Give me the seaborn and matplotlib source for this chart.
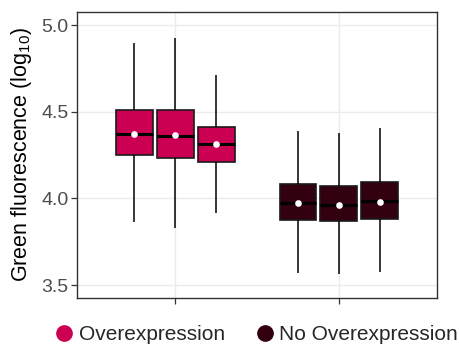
import matplotlib
matplotlib.use("Agg")
import matplotlib.pyplot as plt
from matplotlib.lines import Line2D
import seaborn as sns
import pandas as pd

# Conditions and replicate wells
groups = ["Overexpression", "No Overexpression"]
replicates = ["R1", "R2", "R3"]
group_colors = ["#CC0052", "#33000F"]

# Five-number summaries per replicate (log10 green fluorescence), Overexpression first
whisker_low = [3.865, 3.829, 3.917, 3.567, 3.563, 3.573]
quartile_1 = [4.250, 4.234, 4.211, 3.875, 3.867, 3.882]
medians = [4.371, 4.361, 4.311, 3.975, 3.963, 3.984]
quartile_3 = [4.511, 4.511, 4.413, 4.083, 4.071, 4.094]
whisker_high = [4.899, 4.923, 4.711, 4.390, 4.375, 4.404]
means = [4.374, 4.365, 4.311, 3.975, 3.962, 3.981]

yticks = [3.5, 4.0, 4.5, 5.0]

rows = []
mean_rows = []
k = 0
for g in groups:
    for r in replicates:
        for v in (whisker_low[k], quartile_1[k], medians[k], quartile_3[k], whisker_high[k]):
            rows.append({"group": g, "rep": r, "value": v})
        mean_rows.append({"group": g, "rep": r, "mean": means[k]})
        k += 1
df = pd.DataFrame(rows)
mean_df = pd.DataFrame(mean_rows)

sns.set_theme(style="whitegrid")
plt.rcParams["font.family"] = ["Liberation Sans", "DejaVu Sans"]
plt.rcParams["mathtext.fontset"] = "custom"
plt.rcParams["mathtext.rm"] = "Liberation Sans"
plt.rcParams["mathtext.it"] = "Liberation Sans:italic"

fig = plt.figure(figsize=(4.6, 3.47), dpi=100)
ax = fig.add_axes([0.1674, 0.1412, 0.7826, 0.8242])

for g, col in zip(groups, group_colors):
    sns.boxplot(
        data=df[df["group"] == g], x="group", y="value", hue="rep",
        order=groups, hue_order=replicates, palette=[col] * 3,
        width=0.75, gap=0.1, whis=(0, 100), showcaps=False,
        saturation=1, linecolor="#1A1A1A", linewidth=1.2,
        medianprops=dict(color="black", linewidth=2.2),
        whiskerprops=dict(color="black", linewidth=1.1),
        legend=False, ax=ax,
    )

sns.pointplot(
    data=mean_df, x="group", y="mean", hue="rep",
    order=groups, hue_order=replicates, palette=["white"] * 3,
    dodge=0.5, linestyle="none", marker="o", markersize=4.8,
    markeredgewidth=0, errorbar=None, legend=False, zorder=10, ax=ax,
)

ax.set_xlim(-0.6, 1.6)
ax.set_ylim(3.425, 5.075)
ax.set_yticks(yticks)
ax.set_yticklabels([f"{t:.1f}" for t in yticks])
ax.set_xticks([0, 1])
ax.set_xticklabels([])
ax.set_xlabel("")
ax.set_ylabel("Green fluorescence (log$_{10}$)", fontsize=15.5, color="black", labelpad=5)

ax.grid(True, color="#EBEBEB", linewidth=1.0)
ax.set_axisbelow(True)
for s in ax.spines.values():
    s.set_color("#333333")
    s.set_linewidth(1.0)
ax.tick_params(axis="both", which="major", length=4, width=0.9, color="#333333",
               labelsize=14, labelcolor="#4D4D4D", pad=2, direction="out",
               bottom=True, left=True)

handles = [Line2D([], [], marker="o", linestyle="", markersize=11,
                  markerfacecolor=c, markeredgecolor=c) for c in group_colors]
fig.legend(handles, groups, loc="center", bbox_to_anchor=(0.559, 1 - 335 / 347),
           ncol=2, frameon=False, fontsize=15, handlelength=0.8,
           handletextpad=0.3, columnspacing=1.5, borderaxespad=0)

fig.savefig("out.png", dpi=100, facecolor="white")
